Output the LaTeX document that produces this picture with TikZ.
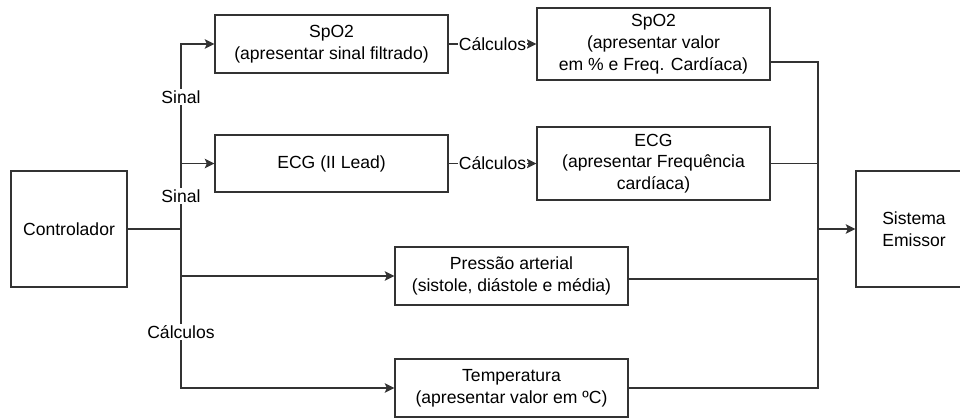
\documentclass[tikz,border=0pt]{standalone}
\usepackage{fontspec}
\setmainfont{Liberation Sans}
\usetikzlibrary{calc, arrows.meta}
\tikzset{>={Stealth[length=5.5pt, width=5.5pt, inset=1.2pt]}}
\tikzset{
    bloco/.style={draw=black!80, line width=0.7pt, align=center, inner sep=1pt,
        font=\fontsize{10}{12.4}\selectfont},
    rotulo/.style={fill=white, inner sep=1pt, font=\fontsize{10}{12}\selectfont},
    liga/.style={draw=black!80, line width=0.7pt}
}

\begin{document}
\begin{tikzpicture}[x=0.02cm, y=-0.02cm]
    \useasboundingbox (0,0) rectangle (960,419);
    \node[bloco, minimum width=116*0.02cm, minimum height=116*0.02cm] (ctrl) at (69,229) {Controlador};
    \node[bloco, minimum width=233*0.02cm, minimum height=58*0.02cm] (spo2) at (331.5,44) {SpO2\\(apresentar sinal filtrado)};
    \node[bloco, minimum width=233*0.02cm, minimum height=57*0.02cm] (ecg) at (331.5,163.5) {ECG (II Lead)};
    \node[bloco, minimum width=233*0.02cm, minimum height=58*0.02cm] (pres) at (511.5,276) {Pressão arterial\\(sistole, diástole e média)};
    \node[bloco, minimum width=233*0.02cm, minimum height=58*0.02cm] (temp) at (511.5,388) {Temperatura\\(apresentar valor em ºC)};
    \node[bloco, minimum width=233*0.02cm, minimum height=72*0.02cm] (spo2r) at (653.5,44) {SpO2\\(apresentar valor\\em \% e Freq. Cardíaca)};
    \node[bloco, minimum width=233*0.02cm, minimum height=73*0.02cm] (ecgr) at (653.5,163.5) {ECG\\(apresentar Frequência\\cardíaca)};
    \node[bloco, minimum width=116*0.02cm, minimum height=116*0.02cm] (emis) at (914,229) {Sistema\\Emissor};

    \coordinate (j) at (181,229);
    \coordinate (m) at (818,229);

    \draw[liga] (ctrl.east) -- (j);
    \draw[liga, ->] (j) |- node[rotulo, pos=0.356] (s1) {Sinal} (spo2.west);
    \draw[liga, ->] (j) |- node[rotulo, pos=0.25] (s2) {Sinal} (ecg.west);
    \draw[liga, ->] (j) |- (pres.west);
    \draw[liga, ->] (j) |- node[rotulo, pos=0.324] (c3) {Cálculos} (temp.west);

    \draw[liga, ->] (spo2.east) -- node[rotulo, inner sep=0.5pt] (c1) {Cálculos} (spo2r.west);
    \draw[liga, ->] (ecg.east) -- node[rotulo, inner sep=0.5pt] (c2) {Cálculos} (ecgr.west);

    \draw[liga] ([yshift=-0.36cm]spo2r.east) -| (m);
    \draw[liga] (ecgr.east) -| (m);
    \draw[liga] ([yshift=-0.06cm]pres.east) -| (m);
    \draw[liga] (temp.east) -| (m);
    \draw[liga, ->] (m) -- (emis.west);
\end{tikzpicture}
\end{document}
